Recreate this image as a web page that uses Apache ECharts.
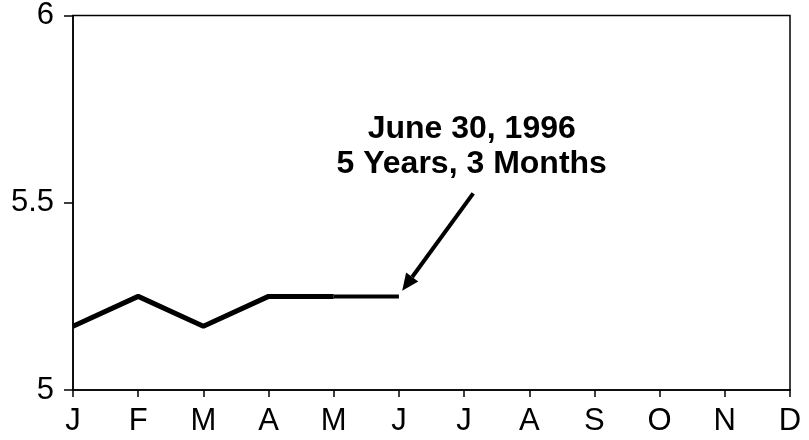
<!DOCTYPE html>
<html>
<head>
<meta charset="utf-8">
<script src="https://cdn.jsdelivr.net/npm/echarts@6/dist/echarts.min.js"></script>
<style>html,body{margin:0;padding:0;background:#fff}#c{width:809px;height:440px}</style>
</head>
<body>
<div id="c"></div>
<script>
var months = ['J','F','M','A','M','J','J','A','S','O','N','D'];
var valuesMain = [5.17, 5.25, 5.17, 5.25, 5.25];
var valuesLast = [null, null, null, null, 5.25, 5.25];
var yTicks = [5, 5.5, 6];
var noteLines = ['June 30, 1996', '5 Years, 3 Months'];
var arrowFrom = [6.14, 5.525];
var arrowTo = [5.05, 5.265];
var noteAnchor = [6.117, 5.651];

var chart = echarts.init(document.getElementById('c'));
var font = 'Liberation Sans, Arial, sans-serif';
chart.setOption({
  animation: false,
  grid: {left: 73, right: 19, top: 15, bottom: 50, show: true, borderColor: '#000', borderWidth: 1.5, backgroundColor: '#fff'},
  xAxis: {
    type: 'category', data: months.map(function(m, i){return {value: m + i};}), boundaryGap: false,
    axisLine: {lineStyle: {color: '#000', width: 1.5}},
    axisTick: {show: true, length: 7, lineStyle: {color: '#000', width: 1.5}, alignWithLabel: true},
    axisLabel: {color: '#000', fontSize: 31, fontFamily: font, margin: 16, interval: 0,
      formatter: function(v, i){return months[i];}}
  },
  yAxis: {
    type: 'value', min: yTicks[0], max: yTicks[yTicks.length-1], interval: 0.5,
    axisLine: {show: true, lineStyle: {color: '#000', width: 1.5}},
    axisTick: {show: true, length: 9, lineStyle: {color: '#000', width: 1.5}},
    axisLabel: {color: '#000', fontSize: 31, fontFamily: font, margin: 19},
    splitLine: {show: false}
  },
  series: [
    {type: 'line', data: valuesMain, symbol: 'none', lineStyle: {color: '#000', width: 5}},
    {type: 'line', data: valuesLast, symbol: 'none', lineStyle: {color: '#000', width: 4}}
  ]
});

function px(pt){
  var i0 = Math.floor(pt[0]);
  var a = chart.convertToPixel({xAxisIndex: 0}, i0);
  var b = chart.convertToPixel({xAxisIndex: 0}, i0 + 1);
  var x = a + (b - a) * (pt[0] - i0);
  var y = chart.convertToPixel({yAxisIndex: 0}, pt[1]);
  return [x, y];
}
var p0 = px(arrowFrom), p1 = px(arrowTo), pa = px(noteAnchor);
var dx = p1[0]-p0[0], dy = p1[1]-p0[1], L = Math.sqrt(dx*dx+dy*dy);
var ux = dx/L, uy = dy/L, headLen = 17, headW = 7.5;
var bx = p1[0]-ux*headLen, by = p1[1]-uy*headLen;
chart.setOption({
  graphic: [
    {type: 'line', shape: {x1: p0[0], y1: p0[1], x2: bx, y2: by}, style: {stroke: '#000', lineWidth: 4}},
    {type: 'polygon', shape: {points: [[p1[0], p1[1]], [bx - uy*headW, by + ux*headW], [bx + uy*headW, by - ux*headW]]}, style: {fill: '#000'}},
    {type: 'text', x: pa[0], y: pa[1],
      style: {text: noteLines.join('\n'), fill: '#000', font: 'bold 32px ' + font, align: 'center', verticalAlign: 'middle', lineHeight: 35}}
  ]
});
</script>
</body>
</html>
